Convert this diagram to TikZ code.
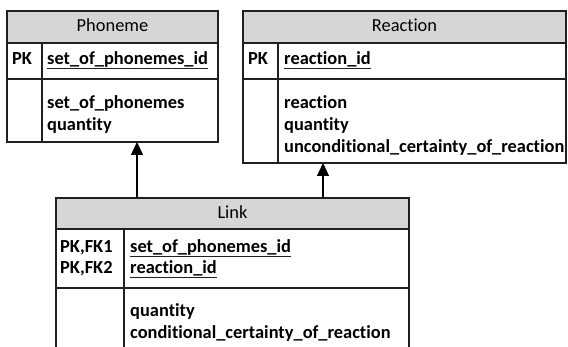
\documentclass[tikz,border=0pt]{standalone}
\usepackage{fontspec}
\setmainfont{Carlito}[Ligatures={NoCommon,NoContextual}]
\usetikzlibrary{arrows.meta}
\definecolor{hdrgray}{HTML}{D6D6D6}
\definecolor{edge}{HTML}{202020}
\tikzset{
  tbl/.style={draw=edge, line width=1.1pt},
  hdr/.style={fill=hdrgray, draw=edge, line width=1.1pt},
  sep/.style={draw=edge, line width=1.1pt},
  title/.style={font=\fontsize{18.4}{22}\selectfont, inner sep=0pt, anchor=base},
  fld/.style={font=\bfseries\fontsize{18.4}{22}\selectfont, inner sep=0pt, anchor=base west},
  ul/.style={draw=edge, line width=0.9pt},
  rel/.style={draw=black, line width=1.3pt, -{Triangle[length=13pt,width=12pt]}}
}
\begin{document}
\begin{tikzpicture}[x=1pt,y=-1pt]
\useasboundingbox (0,0) rectangle (568,347);

% ---- Phoneme table ----
\path[hdr] (7,11) rectangle (218,43);
\draw[tbl] (7,11) rectangle (218,142);
\draw[sep] (7,79) -- (218,79);
\draw[sep] (42,43) -- (42,142);
\node[title] (phT) at (112.5,32) {Phoneme};
\node[fld] (phPK) at (12,65) {PK};
\node[fld] (phId) at (47,65) {set\_of\_phonemes\_id};
\draw[ul] ([yshift=-3.5pt]phId.base west) -- ([yshift=-3.5pt]phId.base east);
\node[fld] (phA) at (47,108.5) {set\_of\_phonemes};
\node[fld] (phB) at (47,130.5) {quantity};
\coordinate (phBot) at (137,142);

% ---- Reaction table ----
\path[hdr] (243,11) rectangle (566,43);
\draw[tbl] (243,11) rectangle (566,163);
\draw[sep] (243,79) -- (566,79);
\draw[sep] (278,43) -- (278,163);
\node[title] (reT) at (404.5,32) {Reaction};
\node[fld] (rePK) at (248,65) {PK};
\node[fld] (reId) at (284,65) {reaction\_id};
\draw[ul] ([yshift=-3.5pt]reId.base west) -- ([yshift=-3.5pt]reId.base east);
\node[fld] (reA) at (284,108.5) {reaction};
\node[fld] (reB) at (284,130.5) {quantity};
\node[fld] (reC) at (284,152.5) {unconditional\_certainty\_of\_reaction};
\coordinate (reBot) at (323,163);

% ---- Link table ----
\path[hdr] (56,198) rectangle (409,229);
\draw[tbl] (56,198) rectangle (409,356);
\draw[sep] (56,288) -- (409,288);
\draw[sep] (124,229) -- (124,356);
\node[title] (lkT) at (232.5,218.5) {Link};
\node[fld] (lkK1) at (60,252.5) {PK,FK1};
\node[fld] (lkK2) at (60,274) {PK,FK2};
\node[fld] (lkF1) at (130,252.5) {set\_of\_phonemes\_id};
\node[fld] (lkF2) at (130,274) {reaction\_id};
\draw[ul] ([yshift=-3.5pt]lkF1.base west) -- ([yshift=-3.5pt]lkF1.base east);
\draw[ul] ([yshift=-3.5pt]lkF2.base west) -- ([yshift=-3.5pt]lkF2.base east);
\node[fld] (lkA) at (130,317) {quantity};
\node[fld] (lkB) at (130,339) {conditional\_certainty\_of\_reaction};
\coordinate (lkTopL) at (137,198);
\coordinate (lkTopR) at (323,198);

% ---- relationships ----
\draw[rel] (lkTopL) -- (phBot);
\draw[rel] (lkTopR) -- (reBot);
\end{tikzpicture}
\end{document}
